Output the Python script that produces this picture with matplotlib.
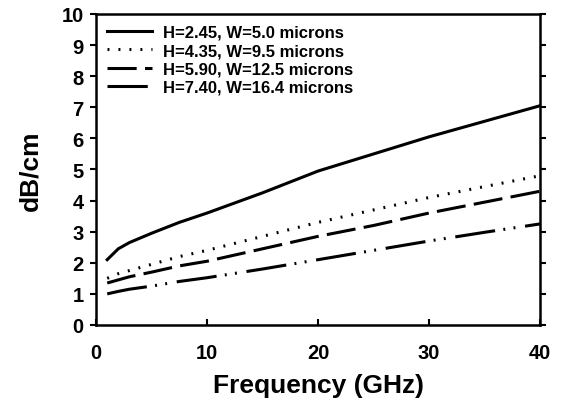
import numpy as np
import matplotlib
matplotlib.use("Agg")
import matplotlib.pyplot as plt

plt.rcParams["font.family"] = ["Liberation Sans", "DejaVu Sans"]
plt.rcParams["font.weight"] = "bold"
plt.rcParams["lines.scale_dashes"] = False

freq = [1, 2, 3, 5, 7.5, 10, 15, 20, 25, 30, 35, 40]
h245 = [2.1, 2.45, 2.65, 2.95, 3.3, 3.6, 4.25, 4.95, 5.5, 6.05, 6.55, 7.05]
h435 = [1.5, 1.65, 1.75, 1.95, 2.2, 2.4, 2.85, 3.3, 3.7, 4.1, 4.45, 4.8]
h590 = [1.35, 1.45, 1.55, 1.7, 1.9, 2.05, 2.45, 2.85, 3.2, 3.6, 3.95, 4.3]
h740 = [1.0, 1.08, 1.15, 1.25, 1.4, 1.52, 1.8, 2.1, 2.4, 2.7, 2.98, 3.25]

labels = ["H=2.45, W=5.0 microns", "H=4.35, W=9.5 microns",
          "H=5.90, W=12.5 microns", "H=7.40, W=16.4 microns"]

fig = plt.figure(figsize=(5.62, 4.14), dpi=100)
ax = fig.add_axes([0.171, 0.2126, 0.79, 0.7512])

lw = 2.2
ax.plot(freq, h245, color="black", lw=lw, linestyle="-", label=labels[0])
ax.plot(freq, h435, color="black", lw=lw, linestyle=(0, (1.4, 6.5)), label=labels[1])
ax.plot(freq, h590, color="black", lw=lw, linestyle=(0, (21, 6)), label=labels[2])
ax.plot(freq, h740, color="black", lw=lw, linestyle=(0, (29, 6, 1.4, 6, 1.4, 7)),
        label=labels[3])

ax.set_xlim(0, 40)
ax.set_ylim(0, 10)
ax.set_xticks([0, 10, 20, 30, 40])
ax.set_yticks(range(0, 11))
ax.tick_params(axis="both", labelsize=14.5, width=1.5, length=4)
ax.tick_params(axis="x", direction="in", pad=13)
ax.tick_params(axis="y", direction="out", right=True, pad=5)
for s in ax.spines.values():
    s.set_linewidth(1.8)

ax.set_xlabel("Frequency (GHz)", fontsize=19, fontweight="bold", labelpad=8)
ax.set_ylabel("dB/cm", fontsize=19, fontweight="bold", labelpad=14)

leg = ax.legend(loc="upper left", frameon=False, handlelength=2.7,
                handletextpad=0.65, labelspacing=0.2, borderaxespad=0.2,
                borderpad=0.45, prop={"weight": "bold", "size": 12})

fig.savefig("out.png", dpi=100)
